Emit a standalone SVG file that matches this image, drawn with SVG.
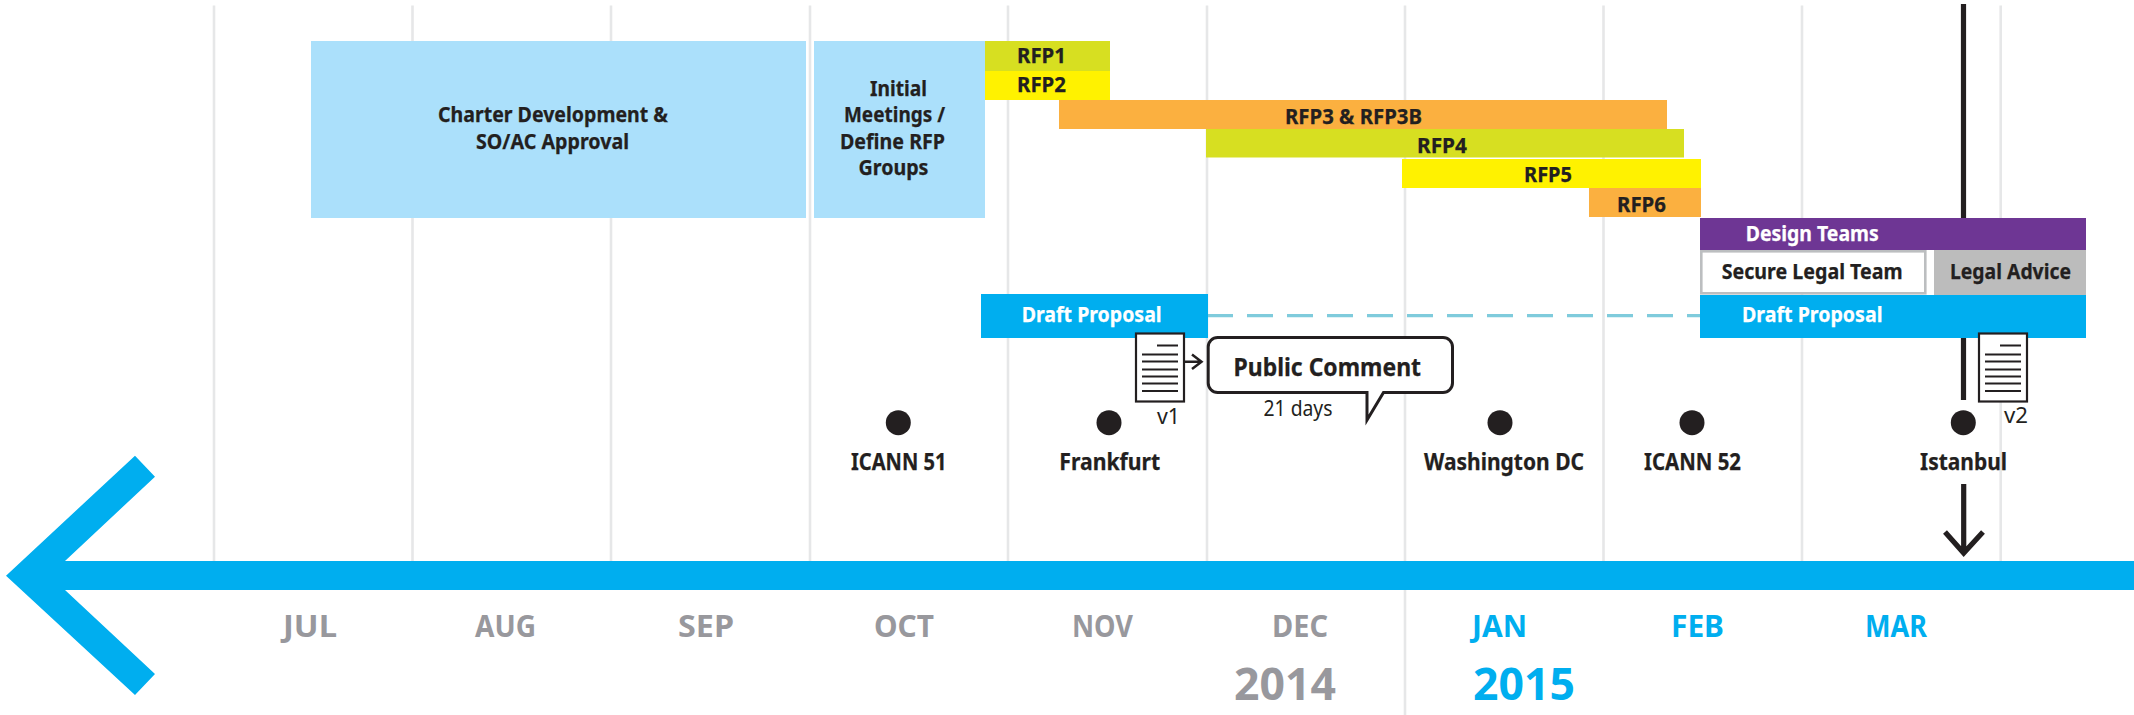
<svg xmlns="http://www.w3.org/2000/svg" width="2134" height="715" viewBox="0 0 2134 715">
<style>
text{font-family:"Noto Sans","Open Sans","Liberation Sans",sans-serif;font-weight:700;fill:#231f20}
.l{font-size:21.5px;stroke:#231f20;stroke-width:.25px}
.w{font-size:21.5px;fill:#fff;stroke:#fff;stroke-width:.25px}
.m{font-size:22.5px;stroke:#231f20;stroke-width:.25px}
.mo{font-size:30px;fill:#98989d}
.mb{font-size:30px;fill:#00aeef}
.y{font-size:45px;fill:#98989d}
.yb{font-size:45px;fill:#00aeef}
.r{font-size:22px;font-weight:400}
.grid{stroke:#e6e7e8;stroke-width:2.6;fill:none}
.blk{stroke:#231f20;fill:none}
.doc{fill:#fff;stroke:#231f20;stroke-width:2.2}
.dl{stroke:#231f20;stroke-width:1.8}
.dot{fill:#231f20}
</style>
<defs>
<g id="docicon">
<rect class="doc" x="0" y="0" width="48" height="68"/>
<path class="dl" d="M21 12H42M6 21H42M6 28H42M6 36H42M6 43H42M6 50H42M6 57.500H42" fill="none"/>
</g>
</defs>
<g id="gridlines">
<path class="grid" d="M214 5.500V561M412.500 5.500V561M611 5.500V561M810 5.500V561M1008 5.500V561M1207 5.500V561M1405 5.500V715M1603.500 5.500V561M1802 5.500V561M2000.700 5.500V561"/>
</g>
<g id="connectors">
<line class="blk" x1="1963.500" y1="4" x2="1963.500" y2="400" stroke-width="5.200"/>
<line x1="1207" y1="315.700" x2="1700" y2="315.700" stroke="#7fcbdc" stroke-width="3.200" stroke-dasharray="26 14"/>
<path class="blk" d="M1184 361.700H1201M1192 354.500L1201.500 361.700L1192 369" stroke-width="2.500"/>
<path class="blk" d="M1963.700 484V554M1945 532L1963.700 553L1983 532" stroke-width="5.200"/>
</g>
<g id="timeline">
<polygon fill="#00aeef" points="6,575.700 135,455.700 155,476.700 65,561 2134,561 2134,590 65,590 155,674 135,695"/>
</g>
<g id="charter"><rect x="311" y="41" width="495" height="177" fill="#abe0fb"/>
<text class="l" x="438" y="122" textLength="230" lengthAdjust="spacingAndGlyphs">Charter Development &amp;</text>
<text class="l" x="476" y="148.500" textLength="153" lengthAdjust="spacingAndGlyphs">SO/AC Approval</text></g>
<g id="initial"><rect x="814" y="41" width="171" height="177" fill="#abe0fb"/>
<text class="l" x="870" y="95.700" textLength="57" lengthAdjust="spacingAndGlyphs">Initial</text>
<text class="l" x="844" y="122" textLength="101" lengthAdjust="spacingAndGlyphs">Meetings /</text>
<text class="l" x="840" y="148.500" textLength="105" lengthAdjust="spacingAndGlyphs">Define RFP</text>
<text class="l" x="858.500" y="175" textLength="70" lengthAdjust="spacingAndGlyphs">Groups</text></g>
<g id="rfp1"><rect x="985" y="41" width="125" height="30" fill="#d7df21"/><text class="l" x="1017" y="62.700" textLength="49" lengthAdjust="spacingAndGlyphs">RFP1</text></g>
<g id="rfp2"><rect x="985" y="71" width="125" height="29" fill="#fff200"/><text class="l" x="1017" y="91.700" textLength="49" lengthAdjust="spacingAndGlyphs">RFP2</text></g>
<g id="rfp3"><rect x="1059" y="100" width="608" height="29" fill="#fbb040"/><text class="l" x="1285" y="124" textLength="137" lengthAdjust="spacingAndGlyphs">RFP3 &amp; RFP3B</text></g>
<g id="rfp4"><rect x="1206" y="129" width="478" height="28.500" fill="#d7df21"/><text class="l" x="1417" y="153" textLength="50" lengthAdjust="spacingAndGlyphs">RFP4</text></g>
<g id="rfp5"><rect x="1402" y="159" width="299" height="29" fill="#fff200"/><text class="l" x="1524" y="182" textLength="48" lengthAdjust="spacingAndGlyphs">RFP5</text></g>
<g id="rfp6"><rect x="1589" y="188" width="112" height="29" fill="#fbb040"/><text class="l" x="1617" y="212.300" textLength="49" lengthAdjust="spacingAndGlyphs">RFP6</text></g>
<g id="design-teams"><rect x="1700" y="218" width="386" height="32" fill="#6e3694"/><text class="w" x="1745.700" y="240.700" textLength="133" lengthAdjust="spacingAndGlyphs">Design Teams</text></g>
<g id="secure-legal"><rect x="1701.300" y="251.300" width="224" height="42" fill="#fff" stroke="#bcbec0" stroke-width="2.600"/><text class="l" x="1721.700" y="279" textLength="181" lengthAdjust="spacingAndGlyphs">Secure Legal Team</text></g>
<g id="legal-advice"><rect x="1934" y="250" width="152" height="45" fill="#bcbcbc"/><text class="l" x="1950" y="279" textLength="121" lengthAdjust="spacingAndGlyphs">Legal Advice</text></g>
<g id="draft1"><rect x="981" y="294" width="227" height="44" fill="#00aeef"/><text class="w" x="1021.700" y="321.700" textLength="140" lengthAdjust="spacingAndGlyphs">Draft Proposal</text></g>
<g id="draft2"><rect x="1700" y="295" width="386" height="43" fill="#00aeef"/><text class="w" x="1742" y="321.700" textLength="140.500" lengthAdjust="spacingAndGlyphs">Draft Proposal</text></g>
<g id="doc-v1"><use href="#docicon" x="1136" y="333.500"/><text class="r" x="1157" y="424" textLength="23" lengthAdjust="spacingAndGlyphs">v1</text></g>
<g id="doc-v2"><use href="#docicon" x="1979" y="333.500"/><text class="r" x="2004" y="423" textLength="24" lengthAdjust="spacingAndGlyphs">v2</text></g>
<g id="public-comment">
<path d="M1217.700 337.500H1443A9.500 9.500 0 0 1 1452.500 347V383A9.500 9.500 0 0 1 1443 392.500H1383.500L1367 420V392.500H1217.700A9.500 9.500 0 0 1 1208.200 383V347A9.500 9.500 0 0 1 1217.700 337.500Z" fill="#fff" stroke="#231f20" stroke-width="3"/>
<text x="1233.500" y="375.700" font-size="24.500" textLength="187.500" lengthAdjust="spacingAndGlyphs" stroke="#231f20" stroke-width=".25">Public Comment</text>
<text class="r" x="1263.500" y="416" textLength="69" lengthAdjust="spacingAndGlyphs">21 days</text>
</g>
<g id="icann51"><circle class="dot" cx="898.300" cy="422.700" r="12.500"/><text class="m" x="851" y="470" textLength="95.500" lengthAdjust="spacingAndGlyphs">ICANN 51</text></g>
<g id="frankfurt"><circle class="dot" cx="1109" cy="422.700" r="12.500"/><text class="m" x="1059.300" y="470" textLength="101" lengthAdjust="spacingAndGlyphs">Frankfurt</text></g>
<g id="washington"><circle class="dot" cx="1500" cy="422.700" r="12.500"/><text class="m" x="1424" y="470" textLength="160" lengthAdjust="spacingAndGlyphs">Washington DC</text></g>
<g id="icann52"><circle class="dot" cx="1692" cy="422.700" r="12.500"/><text class="m" x="1644" y="470" textLength="97" lengthAdjust="spacingAndGlyphs">ICANN 52</text></g>
<g id="istanbul"><circle class="dot" cx="1963.300" cy="422.700" r="12.500"/><text class="m" x="1920" y="470" textLength="87" lengthAdjust="spacingAndGlyphs">Istanbul</text></g>
<g id="months">
<text class="mo" x="283" y="637" textLength="54" lengthAdjust="spacingAndGlyphs">JUL</text>
<text class="mo" x="475" y="637" textLength="61" lengthAdjust="spacingAndGlyphs">AUG</text>
<text class="mo" x="678" y="637" textLength="56" lengthAdjust="spacingAndGlyphs">SEP</text>
<text class="mo" x="874" y="637" textLength="60" lengthAdjust="spacingAndGlyphs">OCT</text>
<text class="mo" x="1072" y="637" textLength="61" lengthAdjust="spacingAndGlyphs">NOV</text>
<text class="mo" x="1272" y="637" textLength="56" lengthAdjust="spacingAndGlyphs">DEC</text>
<text class="mb" x="1472" y="637" textLength="55" lengthAdjust="spacingAndGlyphs">JAN</text>
<text class="mb" x="1671" y="637" textLength="53" lengthAdjust="spacingAndGlyphs">FEB</text>
<text class="mb" x="1865" y="637" textLength="62" lengthAdjust="spacingAndGlyphs">MAR</text>
<text class="y" x="1234" y="700" textLength="102" lengthAdjust="spacingAndGlyphs">2014</text>
<text class="yb" x="1473" y="700" textLength="102" lengthAdjust="spacingAndGlyphs">2015</text>
</g>
</svg>
